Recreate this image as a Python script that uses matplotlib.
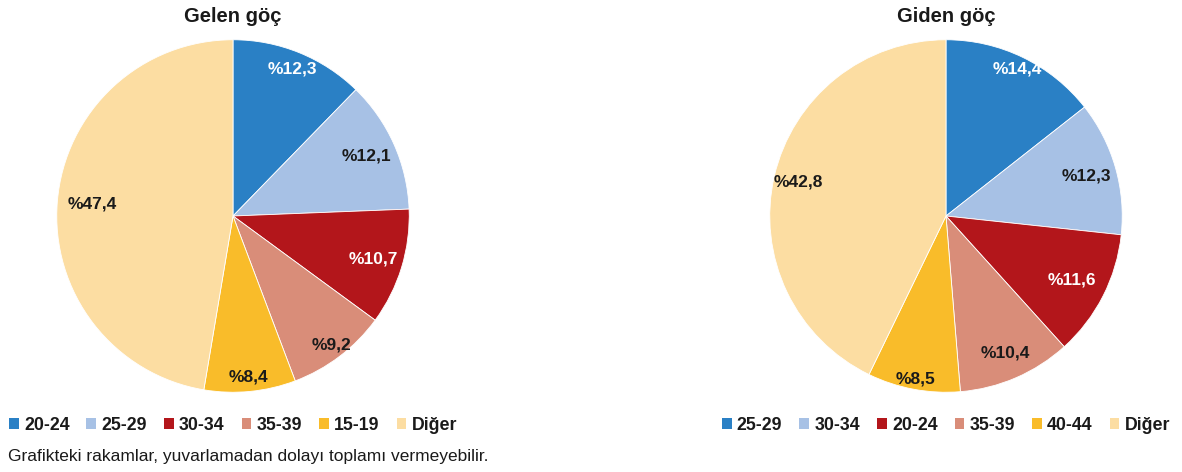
import matplotlib.pyplot as plt
import numpy as np
from matplotlib.patches import Patch

plt.rcParams['font.family'] = ['Liberation Sans', 'DejaVu Sans']

# Gelen göç
gelen_labels = ["20-24", "25-29", "30-34", "35-39", "15-19", "Diğer"]
gelen_values = [12.3, 12.1, 10.7, 9.2, 8.4, 47.4]

# Giden göç
giden_labels = ["25-29", "30-34", "20-24", "35-39", "40-44", "Diğer"]
giden_values = [14.4, 12.3, 11.6, 10.4, 8.5, 42.8]

colors = ["#2A80C5", "#A7C1E5", "#B3161B", "#D98D79", "#F9BC2A", "#FCDDA2"]
text_colors = ["white", "#1a1a1a", "white", "#1a1a1a", "#1a1a1a", "#1a1a1a"]

W, H = 1182, 472
fig = plt.figure(figsize=(W / 100, H / 100), dpi=100)


def draw_pie(cx, cy, r, values, labels, title, dists):
    ax = fig.add_axes([(cx - r) / W, (H - cy - r) / H, 2 * r / W, 2 * r / H])
    ax.pie(values, colors=colors, startangle=90, counterclock=False,
           radius=1, wedgeprops=dict(linewidth=0.6, edgecolor="white"))
    total = sum(values)
    start = 90.0
    for i, v in enumerate(values):
        mid = np.deg2rad(start - 360 * v / total / 2)
        start -= 360 * v / total
        txt = "%" + f"{v:.1f}".replace(".", ",")
        ax.text(dists[i] * np.cos(mid), dists[i] * np.sin(mid), txt,
                ha="center", va="center", fontsize=12.5, fontweight="bold",
                color=text_colors[i])
    ax.set_xlim(-1.01, 1.01)
    ax.set_ylim(-1.01, 1.01)
    ax.set_aspect("equal")
    ax.axis("off")
    fig.text(cx / W, 1 - 16 / H, title, ha="center", va="center",
             fontsize=14.5, fontweight="bold", color="#1a1a1a")
    handles = [Patch(facecolor=c, edgecolor="none") for c in colors]
    fig.legend(handles, labels, loc="center", bbox_to_anchor=(cx / W, 1 - 425 / H),
               ncol=6, frameon=False, prop=dict(size=12.8, weight="bold"),
               handlelength=0.55, handleheight=0.55, handletextpad=0.3,
               columnspacing=0.95, labelcolor="#1a1a1a")


draw_pie(233, 216, 178, gelen_values, gelen_labels, "Gelen göç",
         [0.9, 0.83, 0.83, 0.92, 0.92, 0.8])
draw_pie(946, 216, 178, giden_values, giden_labels, "Giden göç",
         [0.93, 0.83, 0.8, 0.85, 0.94, 0.86])

fig.text(8 / W, 1 - 457 / H, "Grafikteki rakamlar, yuvarlamadan dolayı toplamı vermeyebilir.",
         ha="left", va="center", fontsize=12.5, color="#1a1a1a")

fig.savefig("out.png", dpi=100)
